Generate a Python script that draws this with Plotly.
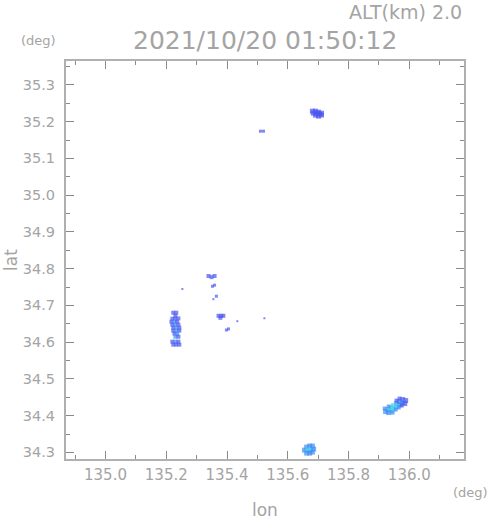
import plotly.graph_objects as go

# --- data ---
lon = [
    # cluster north (35.22)
    135.681, 135.691, 135.701, 135.684, 135.695, 135.705, 135.711, 135.691, 135.701, 135.711,
    # small dash 35.17
    135.510, 135.520,
    # western column (135.23)
    135.223, 135.233, 135.230,
    135.220, 135.230, 135.240, 135.217, 135.227, 135.236, 135.220, 135.230, 135.240,
    135.223, 135.233, 135.243, 135.223, 135.233, 135.243, 135.227, 135.236, 135.230, 135.240,
    135.220, 135.230, 135.240, 135.223, 135.233, 135.243,
    # scattered small echoes
    135.253, 135.339, 135.349, 135.359, 135.352, 135.359, 135.365, 135.355,
    135.372, 135.381, 135.388, 135.378, 135.398, 135.405, 135.434, 135.523,
    # south-east cluster (135.95, 34.43)
    135.978, 135.988, 135.968, 135.978, 135.958, 135.968, 135.948, 135.958,
    135.939, 135.948, 135.929, 135.939, 135.922, 135.932, 135.985,
    135.958, 135.968, 135.932, 135.919, 135.955, 135.965, 135.975, 135.945,
    # southern cluster (135.67, 34.30)
    135.662, 135.672, 135.681, 135.655, 135.665, 135.675, 135.685, 135.662, 135.672, 135.681,
]
lat = [
    35.2285, 35.2285, 35.2258, 35.2231, 35.2231, 35.2204, 35.2231, 35.2177, 35.2150, 35.2177,
    35.1740, 35.1740,
    34.6800, 34.6800, 34.6718,
    34.6638, 34.6638, 34.6646, 34.6557, 34.6557, 34.6557, 34.6475, 34.6475, 34.6475,
    34.6394, 34.6394, 34.6394, 34.6312, 34.6312, 34.6312, 34.6231, 34.6231, 34.6149, 34.6149,
    34.6013, 34.6013, 34.6013, 34.5932, 34.5932, 34.5932,
    34.7446, 34.7800, 34.7770, 34.7800, 34.7520, 34.7550, 34.7250, 34.7170,
    34.6717, 34.6717, 34.6717, 34.6662, 34.6330, 34.6360, 34.6570, 34.6650,
    34.4437, 34.4410, 34.4383, 34.4356, 34.4328, 34.4301, 34.4274, 34.4247,
    34.4220, 34.4193, 34.4165, 34.4138, 34.4111, 34.4084, 34.4328,
    34.4410, 34.4464, 34.4247, 34.4193, 34.4165, 34.4220, 34.4274, 34.4084,
    34.3143, 34.3171, 34.3171, 34.3062, 34.3062, 34.3062, 34.3089, 34.2981, 34.2981, 34.3008,
]
# echo level: 1 = blue, 2 = light blue, 3 = cyan
level = [
    1, 1, 1, 1, 1, 1, 1, 1, 1, 1,
    1, 1,
    1, 1, 1,
    1, 1, 1, 1, 2, 1, 1, 2, 1,
    1, 2, 1, 1, 2, 1, 1, 2, 2, 1,
    1, 2, 1, 1, 1, 1,
    1, 1, 1, 1, 1, 1, 1, 1,
    1, 1, 1, 1, 1, 1, 1, 1,
    1, 1, 2, 2, 2, 2, 3, 3,
    3, 3, 3, 3, 2, 2, 1,
    1, 1, 2, 2, 2, 2, 1, 2,
    2, 2, 2, 2, 3, 3, 2, 2, 2, 2,
]
sizes = [
    5, 5, 5, 5, 5, 5, 5, 5, 5, 5,
    3, 3,
    4, 4, 4,
    4, 4, 4, 4, 4, 4, 4, 4, 4,
    4, 4, 4, 4, 4, 4, 4, 4, 4, 4,
    4, 4, 4, 4, 4, 4,
    2, 4, 4, 4, 3, 3, 3, 2,
    4, 4, 4, 4, 3, 3, 2, 2,
    5, 5, 5, 5, 5, 5, 5, 5,
    5, 5, 5, 5, 5, 5, 5,
    4, 4, 4, 4, 4, 4, 4, 4,
    5, 5, 5, 5, 5, 5, 5, 5, 5, 5,
]
level_colors = {1: "#4b55f0", 2: "#3d8bf4", 3: "#45d2ea"}

title_text = "2021/10/20 01:50:12"
alt_text = "ALT(km) 2.0"
x_label = "lon"
y_label = "lat"
unit = "(deg)"

x_ticks = [135.0, 135.2, 135.4, 135.6, 135.8, 136.0]
y_ticks = [34.3, 34.4, 34.5, 34.6, 34.7, 34.8, 34.9, 35.0, 35.1, 35.2, 35.3]

GRAY = "#a4a4a4"
FONT = "DejaVu Sans"

fig = go.Figure()
fig.add_trace(go.Scatter(
    x=lon, y=lat, mode="markers",
    marker=dict(symbol="square", size=sizes,
                color=[level_colors[v] for v in level], line=dict(width=0)),
    hoverinfo="skip", showlegend=False,
))

axis_common = dict(
    showgrid=False, zeroline=False, showline=True, linecolor="#b0b0b0", linewidth=2,
    mirror="allticks", ticks="inside", ticklen=8, tickwidth=1, tickcolor="#8a8a8a",
    tickfont=dict(family=FONT, size=15, color=GRAY),
)

fig.update_layout(
    width=491, height=521,
    margin=dict(l=66, r=27, t=61, b=62),
    paper_bgcolor="white", plot_bgcolor="white",
    xaxis=dict(range=[134.87, 136.18], tickvals=x_ticks,
               ticktext=[f"{v:.1f}" for v in x_ticks],
               minor=dict(dtick=0.1, tick0=135.0, ticks="inside", ticklen=4, tickcolor="#8a8a8a", showgrid=False),
               ticklabelstandoff=1,
               **axis_common),
    yaxis=dict(range=[34.282, 35.365], tickvals=y_ticks,
               ticktext=[f"{v:.1f}" for v in y_ticks],
               minor=dict(dtick=0.05, tick0=34.3, ticks="inside", ticklen=4, tickcolor="#8a8a8a", showgrid=False),
               ticklabelstandoff=6,
               **axis_common),
)
fig.update_yaxes(tickfont=dict(family=FONT, size=14.5, color=GRAY))

fig.add_annotation(text=title_text, xref="paper", yref="paper", x=0.5, y=1.0, yshift=21,
                   xanchor="center", yanchor="middle", showarrow=False,
                   font=dict(family=FONT, size=25, color=GRAY))
fig.add_annotation(text=alt_text, xref="paper", yref="paper", x=1.0, y=1.0, yshift=49,
                   xanchor="right", yanchor="middle", showarrow=False,
                   font=dict(family=FONT, size=19, color=GRAY))
fig.add_annotation(text=unit, xref="paper", yref="paper", x=0, y=1.0, xshift=-8, yshift=21,
                   xanchor="right", yanchor="middle", showarrow=False,
                   font=dict(family=FONT, size=13, color=GRAY))
fig.add_annotation(text=unit, xref="paper", yref="paper", x=1.0, y=0, xshift=26, yshift=-33,
                   xanchor="right", yanchor="middle", showarrow=False,
                   font=dict(family=FONT, size=13, color=GRAY))
fig.add_annotation(text=x_label, xref="paper", yref="paper", x=0.5, y=0, yshift=-51,
                   xanchor="center", yanchor="middle", showarrow=False,
                   font=dict(family=FONT, size=17, color=GRAY))
fig.add_annotation(text=y_label, xref="paper", yref="paper", x=0, y=0.5, xshift=-55,
                   xanchor="center", yanchor="middle", showarrow=False, textangle=-90,
                   font=dict(family=FONT, size=17, color=GRAY))

fig.write_html("out.html", config={"displayModeBar": False},
               post_script="document.body.style.margin='0';document.body.style.overflow='hidden';")
